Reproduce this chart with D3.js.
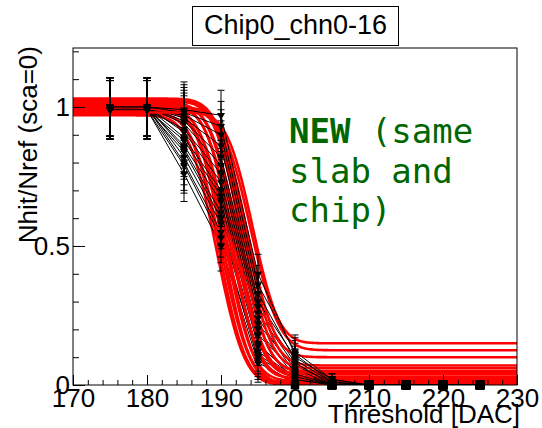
<!DOCTYPE html>
<html>
<head>
<meta charset="utf-8">
<script src="https://cdn.jsdelivr.net/npm/d3@7"></script>
<style>
  html, body { margin: 0; padding: 0; background: #fff; }
  svg { display: block; }
</style>
</head>
<body>
<svg id="chart" width="542" height="428"></svg>
<script>
// ---------------- DATA ----------------
const chartTitle = "Chip0_chn0-16";
const xTitle = "Threshold [DAC]";
const yTitle = "Nhit/Nref (sca=0)";
const noteLines = [["NEW", " (same"], ["", "slab and"], ["", "chip)"]];

const xMajorTicks = [170, 180, 190, 200, 210, 220, 230];
const yMajorTicks = [0, 0.5, 1];
const yTickLabels = ["0", "0.5", "1"];

// thresholds scanned (DAC)
const thresholds = [175, 180, 185, 190, 195, 200, 205, 210, 215, 220, 225];
// error bar half-size at each threshold
const errByThreshold = [0.105, 0.105, 0.10, 0.09, 0.07, 0.06, 0.02, 0, 0, 0, 0];

// measured ratio per channel (chn0..chn16) at the thresholds above
const ch0  = [0.99, 0.99, 0.76, 0.50, 0.08, 0.01, 0, 0, 0, 0, 0];
const ch1  = [1.00, 0.99, 0.79, 0.53, 0.10, 0.02, 0, 0, 0, 0, 0];
const ch2  = [0.99, 1.00, 0.80, 0.55, 0.09, 0.00, 0, 0, 0, 0, 0];
const ch3  = [1.00, 1.00, 0.82, 0.58, 0.12, 0.03, 0, 0, 0, 0, 0];
const ch4  = [0.99, 0.99, 0.84, 0.60, 0.11, 0.02, 0, 0, 0, 0, 0];
const ch5  = [1.00, 1.00, 0.85, 0.62, 0.14, 0.04, 0, 0, 0, 0, 0];
const ch6  = [0.99, 1.00, 0.86, 0.66, 0.15, 0.02, 0, 0, 0, 0, 0];
const ch7  = [1.00, 0.99, 0.88, 0.68, 0.18, 0.05, 0, 0, 0, 0, 0];
const ch8  = [0.99, 1.00, 0.89, 0.70, 0.20, 0.03, 0, 0, 0, 0, 0];
const ch9  = [1.00, 1.00, 0.91, 0.73, 0.22, 0.06, 0, 0, 0, 0, 0];
const ch10 = [0.99, 0.99, 0.92, 0.76, 0.24, 0.04, 0, 0, 0, 0, 0];
const ch11 = [1.00, 1.00, 0.94, 0.79, 0.26, 0.07, 0.01, 0, 0, 0, 0];
const ch12 = [0.99, 1.00, 0.95, 0.82, 0.28, 0.08, 0, 0, 0, 0, 0];
const ch13 = [1.00, 1.00, 0.96, 0.86, 0.30, 0.10, 0.02, 0, 0, 0, 0];
const ch14 = [0.99, 0.99, 0.97, 0.90, 0.33, 0.09, 0.01, 0, 0, 0, 0];
const ch15 = [1.00, 1.00, 0.98, 0.93, 0.36, 0.12, 0.02, 0, 0, 0, 0];
const ch16 = [1.00, 1.00, 0.99, 0.97, 0.40, 0.11, 0.01, 0, 0, 0, 0];
const channels = [ch0, ch1, ch2, ch3, ch4, ch5, ch6, ch7, ch8, ch9, ch10, ch11, ch12, ch13, ch14, ch15, ch16];

// fitted S-curve parameters per channel (erfc step)
const fitMu    = [189.4, 189.7, 190.0, 190.3, 190.6, 190.9, 191.2, 191.5, 191.8, 192.1, 192.4, 192.7, 193.0, 193.3, 193.6, 194.0, 194.3];
const fitWidth = [4.2, 4.0, 4.3, 3.9, 4.1, 4.0, 4.4, 3.8, 4.2, 4.0, 4.3, 3.9, 4.1, 4.2, 4.0, 4.3, 3.9];
const fitTop   = [0.97, 0.975, 0.98, 0.985, 0.99, 0.995, 1.0, 1.0, 1.005, 1.01, 1.015, 1.02, 1.025, 1.03, 0.99, 1.0, 0.98];
const fitTail  = [0.0, 0.005, 0.0, 0.01, 0.015, 0.0, 0.02, 0.025, 0.03, 0.04, 0.045, 0.05, 0.06, 0.07, 0.10, 0.125, 0.15];

// ---------------- DRAW ----------------
const SANS = '"Liberation Sans", Arial, Helvetica, sans-serif';
const MONO = '"DejaVu Sans Mono", "Liberation Mono", monospace';
const svg = d3.select("#chart");
const frame = { left: 73, right: 517, top: 48, bottom: 385 };
const x = d3.scaleLinear().domain([170, 230]).range([frame.left, frame.right]);
const y = d3.scaleLinear().domain([0, 1.212]).range([frame.bottom, frame.top]);

svg.append("rect").attr("width", 542).attr("height", 428).attr("fill", "#fff");

svg.append("defs").append("clipPath").attr("id", "clip")
  .append("rect").attr("x", frame.left).attr("y", frame.top)
  .attr("width", frame.right - frame.left).attr("height", frame.bottom - frame.top);

const plot = svg.append("g").attr("clip-path", "url(#clip)");

function erf(z) {
  const s = z < 0 ? -1 : 1; z = Math.abs(z);
  const t = 1 / (1 + 0.3275911 * z);
  const p = t * (0.254829592 + t * (-0.284496736 + t * (1.421413741 + t * (-1.453152027 + t * 1.061405429))));
  return s * (1 - p * Math.exp(-z * z));
}
const xs = d3.range(170, 230.001, 0.2);

const line = d3.line().x(d => x(d[0])).y(d => y(d[1]));

channels.forEach((vals, i) => {
  // fit curve
  const mu = fitMu[i], w = fitWidth[i], top = fitTop[i], c = fitTail[i];
  const curve = xs.map(t => [t, c + (top - c) * 0.5 * (1 - erf((t - mu) / w))]);
  plot.append("path").attr("d", line(curve))
    .attr("fill", "none").attr("stroke", "#ff0000").attr("stroke-width", 2.6);

  // graph line
  const pts = thresholds.map((t, k) => [t, vals[k]]);
  plot.append("path").attr("d", line(pts))
    .attr("fill", "none").attr("stroke", "#000").attr("stroke-width", 1);

  // error bars
  const g = plot.append("g").attr("stroke", "#000").attr("stroke-width", 1);
  pts.forEach((p, k) => {
    const e = errByThreshold[k];
    if (e <= 0) return;
    const lo = Math.max(0, p[1] - e), hi = p[1] + e;
    const px = x(p[0]);
    g.append("line").attr("x1", px).attr("x2", px).attr("y1", y(lo)).attr("y2", y(hi));
    g.append("line").attr("x1", px - 3.5).attr("x2", px + 3.5).attr("y1", y(hi)).attr("y2", y(hi));
    if (p[1] - e > 0)
      g.append("line").attr("x1", px - 3.5).attr("x2", px + 3.5).attr("y1", y(lo)).attr("y2", y(lo));
  });
});

// markers (drawn unclipped so they straddle the axis like the original)
const mk = svg.append("g");
channels.forEach(vals => {
  thresholds.forEach((t, k) => {
    const v = vals[k];
    if (v > 0) {
      mk.append("path")
        .attr("d", d3.symbol().type(d3.symbolTriangle).size(28)())
        .attr("transform", `translate(${x(t)},${y(v)}) rotate(180)`)
        .attr("fill", "#000");
    } else {
      mk.append("path")
        .attr("d", d3.symbol().type(d3.symbolSquare).size(72)())
        .attr("transform", `translate(${x(t)},${y(v)})`)
        .attr("fill", "#000");
    }
  });
});

// frame
svg.append("rect").attr("x", frame.left).attr("y", frame.top)
  .attr("width", frame.right - frame.left).attr("height", frame.bottom - frame.top)
  .attr("fill", "none").attr("stroke", "#000").attr("stroke-width", 1);

// axes
const xMinor = svg.append("g").attr("transform", `translate(0,${frame.bottom})`)
  .call(d3.axisBottom(x).tickValues(d3.range(170, 231, 2)).tickSizeInner(-5).tickSizeOuter(0).tickFormat(""));
const xMaj = svg.append("g").attr("transform", `translate(0,${frame.bottom})`)
  .call(d3.axisBottom(x).tickValues(xMajorTicks).tickSizeInner(-10).tickSizeOuter(0).tickPadding(4).tickFormat(d3.format("d")));
const yMinor = svg.append("g").attr("transform", `translate(${frame.left},0)`)
  .call(d3.axisLeft(y).tickValues(d3.range(0, 1.21, 0.1)).tickSizeInner(-6).tickSizeOuter(0).tickFormat(""));
const yMaj = svg.append("g").attr("transform", `translate(${frame.left},0)`)
  .call(d3.axisLeft(y).tickValues(yMajorTicks).tickSizeInner(-12).tickSizeOuter(0).tickPadding(3)
    .tickFormat((d, i) => yTickLabels[i]));
[xMinor, xMaj, yMinor, yMaj].forEach(a => {
  a.select(".domain").remove();
  a.selectAll("line").attr("stroke", "#000");
  a.selectAll("text").attr("fill", "#000").attr("font-size", 26).style("font-family", SANS);
});

// axis titles
svg.append("text").attr("x", 520).attr("y", 423).attr("text-anchor", "end")
  .style("font-family", SANS).attr("font-size", 26).attr("fill", "#000").text(xTitle);
svg.append("text").attr("transform", "translate(37,46) rotate(-90)").attr("text-anchor", "end")
  .style("font-family", SANS).attr("font-size", 26).attr("fill", "#000").text(yTitle);

// title box
svg.append("rect").attr("x", 192.5).attr("y", 6.5).attr("width", 206).attr("height", 39)
  .attr("fill", "#fff").attr("stroke", "#000").attr("stroke-width", 1);
svg.append("text").attr("x", 295.5).attr("y", 34).attr("text-anchor", "middle")
  .style("font-family", SANS).attr("font-size", 27).attr("fill", "#000").text(chartTitle);

// green note
noteLines.forEach((ln, i) => {
  const t = svg.append("text").attr("x", 289).attr("y", 143 + i * 39.5)
    .attr("fill", "#006600").attr("font-size", 34)
    .style("font-family", MONO).style("white-space", "pre");
  if (ln[0]) t.append("tspan").attr("font-weight", "bold").text(ln[0]);
  t.append("tspan").text(ln[1]);
});
</script>
</body>
</html>
